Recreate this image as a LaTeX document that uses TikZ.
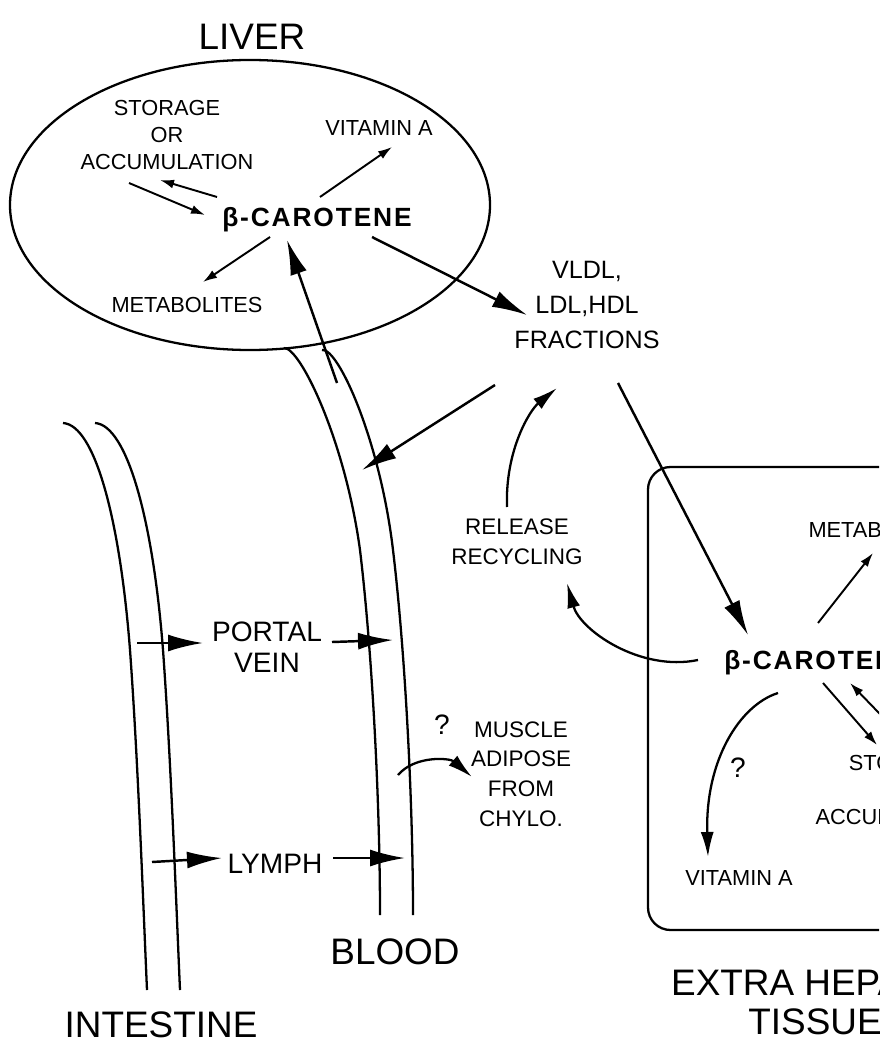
\documentclass[tikz,border=0pt]{standalone}
\usepackage{fontspec}
\setmainfont{Liberation Sans}
\newfontfamily\carfont[LetterSpace=7]{Liberation Sans}
\usetikzlibrary{arrows.meta}

\begin{document}
\begin{tikzpicture}[x=0.02cm,y=-0.02cm,line width=1.3pt,
    organ/.style={font=\fontsize{21}{22}\selectfont,align=center,inner sep=1pt},
    lbl/.style={font=\fontsize{12.4}{15.3}\selectfont,align=center,inner sep=1pt},
    lblb/.style={font=\fontsize{12.8}{16.8}\selectfont,align=center,inner sep=1pt},
    mid/.style={font=\fontsize{16}{17.5}\selectfont,align=center,inner sep=1pt},
    frac/.style={font=\fontsize{14.3}{19.8}\selectfont,align=center,inner sep=1pt},
    carot/.style={font=\carfont\bfseries\fontsize{15}{17}\selectfont,inner sep=1pt},
    quest/.style={font=\fontsize{16}{18}\selectfont,inner sep=1pt},
    bigarr/.style={-{Latex[length=7mm,width=3.4mm]},line width=1.4pt},
    medarr/.style={-{Latex[length=5mm,width=2.6mm]},line width=1.3pt},
    smarr/.style={-{Latex[length=2.8mm,width=1.8mm]},line width=1.1pt}]
    \clip (0,0) rectangle (879,1040);

    % liver
    \node[organ] (liver) at (252,37) {LIVER};
    \draw (250,205) ellipse [x radius=240, y radius=145];
    \node[lbl] (stor) at (167,135) {STORAGE\\OR\\ACCUMULATION};
    \node[lbl] (vitL) at (379,128) {VITAMIN A};
    \node[carot] (carL) at (317,220) {β-CAROTENE};
    \node[lbl] (metL) at (187,305) {METABOLITES};
    \draw[smarr] ([shift={(-38,48)}]stor.center) -- ([shift={(-112,-5)}]carL.center);
    \draw[smarr] ([shift={(-100,-23)}]carL.center) -- ([shift={(-7,45)}]stor.center);
    \draw[smarr] ([shift={(3,-23)}]carL.center) -- ([shift={(13,19)}]vitL.center);
    \draw[smarr] ([shift={(-47,17)}]carL.center) -- ([shift={(16,-23)}]metL.center);

    % vessels
    \draw (63,423) .. controls (95,425) and (120,520) .. (130,650) .. controls (138,760) and (143,900) .. (147,990);
    \draw (95,423) .. controls (127,425) and (153,520) .. (163,650) .. controls (171,760) and (176,900) .. (180,990);
    \draw (284,348) .. controls (300,347) and (345,440) .. (360,550) .. controls (372,650) and (380,800) .. (380,915);
    \draw (322,350) .. controls (338,347) and (380,440) .. (393,550) .. controls (405,650) and (413,800) .. (413,915);
    \coordinate (bv1) at (337,383);
    \coordinate (bv2) at (362,470);
    \coordinate (pv1) at (137,643);
    \coordinate (pv2) at (393,640);
    \coordinate (ly1) at (152,862);
    \coordinate (ly2) at (405,858);

    \node[mid] (portal) at (267,647) {PORTAL\\VEIN};
    \node[mid] (lymph) at (275,864) {LYMPH};
    \node[organ] (blood) at (395,952) {BLOOD};
    \node[organ] (intestine) at (161,1025) {INTESTINE};
    \draw[bigarr] (pv1) -- ([shift={(-64,-4)}]portal.center);
    \draw[bigarr] ([shift={(65,-5)}]portal.center) -- (pv2);
    \draw[bigarr] (ly1) -- ([shift={(-53,-6)}]lymph.center);
    \draw[bigarr] ([shift={(58,-6)}]lymph.center) -- (ly2);

    % blood to muscle
    \node[quest] (qM) at (442,725) {?};
    \node[lblb] (muscle) at (521,774) {MUSCLE\\ADIPOSE\\FROM\\CHYLO.};
    \draw[medarr] (398,775) .. controls +(17,-20) and +(-22,-19) .. ([shift={(-49,3)}]muscle.center);

    % lipoproteins
    \node[frac] (vldl) at (587,305) {VLDL,\\LDL,HDL\\FRACTIONS};
    \node[lblb] (release) at (517,542) {RELEASE\\RECYCLING};
    \draw[bigarr] (bv1) -- ([shift={(-30,20)}]carL.center);
    \draw[bigarr] ([shift={(55,17)}]carL.center) -- ([shift={(-60,10)}]vldl.center);
    \draw[bigarr] ([shift={(-92,80)}]vldl.center) -- (bv2);
    \draw[medarr] ([shift={(-10,-35)}]release.center) .. controls +(-2,-57) and +(-27,22) .. ([shift={(-30,83)}]vldl.center);

    % extra hepatic tissue
    \draw[rounded corners=0.45cm] (648,467) rectangle (960,930);
    \node[carot] (carT) at (819,663) {β-CAROTENE};
    \node[lbl] (metT) at (884,530) {METABOLITES};
    \node[lbl] (storT) at (902,790) {STORAGE\\OR\\ACCUMULATION};
    \node[lbl] (vitT) at (739,878) {VITAMIN A};
    \node[quest] (qT) at (738,768) {?};
    \node[organ] (tissue) at (815,1002) {EXTRA HEPATIC\\TISSUE};
    \draw[bigarr] ([shift={(31,78)}]vldl.center) -- ([shift={(-71,-28)}]carT.center);
    \draw[medarr] ([shift={(-121,-3)}]carT.center) .. controls +(-58,12) and +(13,47) .. ([shift={(50,41)}]release.center);
    \draw[medarr] ([shift={(-41,30)}]carT.center) .. controls +(-38,12) and +(-3,-97) .. ([shift={(-31,-21)}]vitT.center);
    \draw[smarr] ([shift={(-1,-40)}]carT.center) -- ([shift={(-11,23)}]metT.center);
    \draw[smarr] ([shift={(4,20)}]carT.center) -- ([shift={(-25,-45)}]storT.center);
    \draw[smarr] ([shift={(3,-50)}]storT.center) -- ([shift={(31,20)}]carT.center);
\end{tikzpicture}
\end{document}
